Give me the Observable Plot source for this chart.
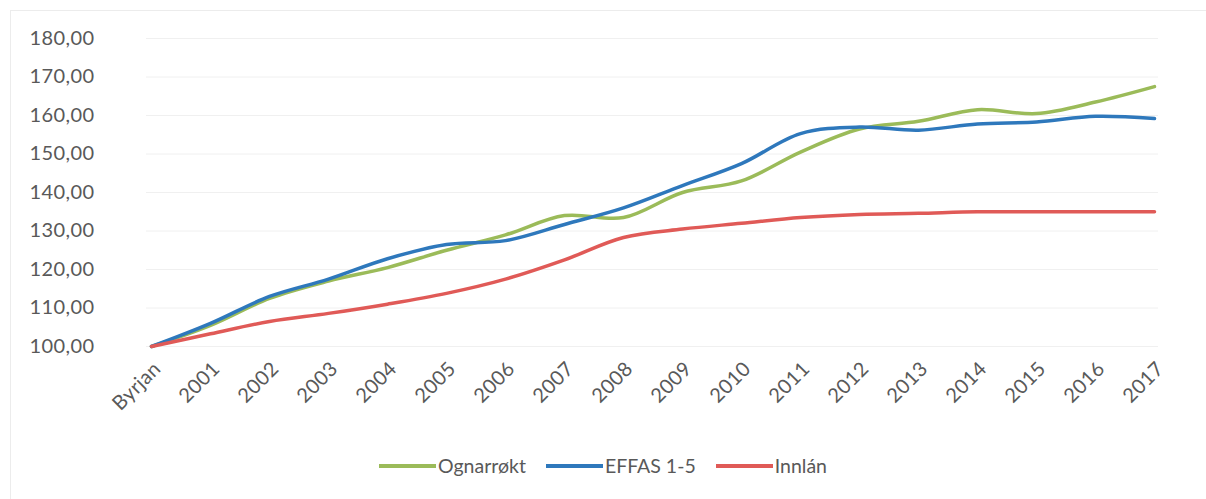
<!DOCTYPE html>
<html>
<head>
<meta charset="utf-8">
<script src="https://cdn.jsdelivr.net/npm/d3@7"></script>
<script src="https://cdn.jsdelivr.net/npm/@observablehq/plot@0.6"></script>
<style>
  html, body { margin: 0; padding: 0; background: #fff; }
  #wrap { position: relative; width: 1206px; height: 499px; overflow: hidden; font-family: Lato, "Open Sans", sans-serif; }
  #frame { position: absolute; left: 10px; top: 10px; width: 1300px; height: 600px; border: 1px solid #ececec; }
  #chart { position: absolute; left: 0; top: 0; }
  #legend { position: absolute; top: 454px; left: 0; width: 1206px; display: flex; justify-content: center; gap: 20px; font-size: 19.5px; color: #595959; }
  .item { display: flex; align-items: center; }
  .sw { width: 57px; height: 4px; margin-right: 2px; }
  #chart svg text { letter-spacing: 0.4px; }
</style>
</head>
<body>
<div id="wrap">
  <div id="frame"></div>
  <div id="chart"></div>
  <div id="legend"></div>
</div>
<script>
const categories = ["Byrjan","2001","2002","2003","2004","2005","2006","2007","2008","2009","2010","2011","2012","2013","2014","2015","2016","2017"];
const seriesNames = ["Ognarrøkt", "EFFAS 1-5", "Innlán"];
const seriesColors = ["#9bbb59", "#2e78bc", "#e05a57"];
const ognarrokt = [100, 105.5, 112.5, 117, 120.5, 125, 129, 134, 133.5, 140, 143, 150.5, 156.5, 158.5, 161.5, 160.5, 163.5, 167.5];
const effas = [100, 106, 113, 117.5, 122.8, 126.5, 127.5, 131.7, 136, 141.8, 147.5, 155.3, 157, 156.2, 157.8, 158.3, 159.8, 159.2];
const innlan = [100, 103.3, 106.5, 108.6, 111, 113.8, 117.5, 122.5, 128.3, 130.5, 132, 133.5, 134.3, 134.6, 135, 135, 135, 135];
const yTicks = [100, 110, 120, 130, 140, 150, 160, 170, 180];

const valuesBySeries = [ognarrokt, effas, innlan];
const data = [];
seriesNames.forEach((s, i) => {
  categories.forEach((c, j) => data.push({series: s, cat: c, value: valuesBySeries[i][j]}));
});

const fmt = v => d3.format(".2f")(v).replace(".", ",");

const chart = Plot.plot({
  width: 1206,
  height: 440,
  marginLeft: 146,
  marginRight: 48,
  marginTop: 38,
  marginBottom: 94,
  style: { fontFamily: "Lato, 'Open Sans', sans-serif", fontSize: "20px", color: "#595959", background: "transparent" },
  x: { type: "point", domain: categories, padding: 0, label: null, axis: null },
  y: { domain: [100, 180], label: null },
  color: { domain: seriesNames, range: seriesColors },
  marks: [
    Plot.gridY(yTicks, { stroke: "#f0f0f0", strokeOpacity: 1, strokeWidth: 1 }),
    Plot.axisY(yTicks, { tickSize: 0, tickPadding: 52, tickFormat: fmt, fill: "#595959", fontSize: 20 }),
    Plot.text(categories, { x: d => d, frameAnchor: "bottom", rotate: -45, textAnchor: "end", lineAnchor: "middle", dx: 6, dy: 19, fill: "#595959", fontSize: 20 }),
    Plot.line(data, { x: "cat", y: "value", z: "series", stroke: "series", strokeWidth: 3.5, curve: "catmull-rom" })
  ]
});
document.getElementById("chart").appendChild(chart);

const legend = document.getElementById("legend");
seriesNames.forEach((s, i) => {
  const it = document.createElement("div");
  it.className = "item";
  const sw = document.createElement("div");
  sw.className = "sw";
  sw.style.background = seriesColors[i];
  const t = document.createElement("span");
  t.textContent = s;
  it.appendChild(sw); it.appendChild(t);
  legend.appendChild(it);
});
</script>
</body>
</html>
